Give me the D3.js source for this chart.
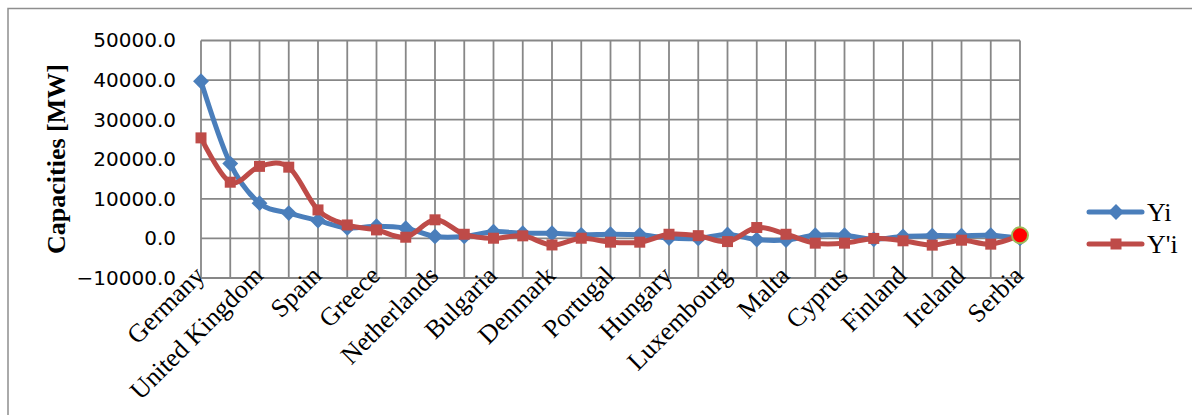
<!DOCTYPE html>
<html>
<head>
<meta charset="utf-8">
<script src="https://cdn.jsdelivr.net/npm/d3@7"></script>
<style>
  html, body { margin: 0; padding: 0; background: #ffffff; }
  svg { display: block; }
</style>
</head>
<body>
<svg id="chart" width="1192" height="415"></svg>
<script>
// Countries ordered by installed capacity (every second one is labelled on the axis)
const countries = [
  "Germany", "Italy", "United Kingdom", "France", "Spain", "Belgium", "Greece",
  "Czech Republic", "Netherlands", "Romania", "Bulgaria", "Austria", "Denmark",
  "Slovakia", "Portugal", "Slovenia", "Hungary", "Sweden", "Luxembourg", "Poland",
  "Malta", "Lithuania", "Cyprus", "Croatia", "Finland", "Estonia", "Ireland",
  "Latvia", "Serbia"
];

// Yi series, MW
const yiValues = [
  39700, 18900, 8900, 6400, 4500, 2650, 3100, 2600, 500, 500, 1700, 1300, 1300,
  900, 1050, 900, 100, 0, 1000, -300, -400, 800, 800, -200, 500, 700, 700,
  800, 0
];

// Y'i series, MW
const yPrimeValues = [
  25400, 14200, 18200, 18000, 7200, 3400, 2150, 300, 4700, 1050, 50, 650, -1650,
  50, -950, -950, 1050, 700, -800, 2750, 1050, -1200, -1200, 0, -600, -1700,
  -450, -1450, 800
];

// Value axis ticks
const yTicks = [-10000, 0, 10000, 20000, 30000, 40000, 50000];

const seriesNames = ["Yi", "Y'i"];

const svg = d3.select("#chart");

const x = d3.scalePoint().domain(countries).range([201, 1020]).padding(0);
const y = d3.scaleLinear().domain([-10000, 50000]).range([278, 40.5]);

const gridColor = "#878787";

// Outer chart frame
svg.append("rect")
  .attr("x", 8).attr("y", 8.5)
  .attr("width", 1200).attr("height", 420)
  .attr("fill", "none")
  .attr("stroke", "#8e8e8e")
  .attr("stroke-width", 1.5);

// Horizontal gridlines
svg.append("g")
  .selectAll("line")
  .data(yTicks)
  .join("line")
  .attr("x1", x(countries[0])).attr("x2", x(countries[countries.length - 1]))
  .attr("y1", d => y(d)).attr("y2", d => y(d))
  .attr("stroke", gridColor).attr("stroke-width", 1.8);

// Vertical gridlines, one per category
svg.append("g")
  .selectAll("line")
  .data(countries)
  .join("line")
  .attr("x1", d => x(d)).attr("x2", d => x(d))
  .attr("y1", y(50000)).attr("y2", y(-10000))
  .attr("stroke", gridColor).attr("stroke-width", 1.8);

// Value axis labels
const yAxis = d3.axisLeft(y)
  .tickValues(yTicks)
  .tickFormat(d3.format(".1f"))
  .tickSize(0)
  .tickPadding(25);

const yAxisG = svg.append("g")
  .attr("transform", `translate(${x(countries[0])},0)`)
  .call(yAxis);
yAxisG.select(".domain").remove();
yAxisG.selectAll("text")
  .attr("font-family", "DejaVu Sans, sans-serif")
  .attr("font-size", "20px")
  .attr("fill", "#000");

// Category labels, every second country, rotated
svg.append("g")
  .selectAll("text")
  .data(countries.filter((d, i) => i % 2 === 0))
  .join("text")
  .attr("transform", d => `translate(${x(d) + 5},${277}) rotate(-45)`)
  .attr("text-anchor", "end")
  .attr("font-family", "Liberation Serif, Times New Roman, serif")
  .attr("font-size", "26px")
  .attr("fill", "#000")
  .text(d => d);

// Value axis title
svg.append("text")
  .attr("transform", `translate(65,159) rotate(-90)`)
  .attr("text-anchor", "middle")
  .attr("font-family", "Liberation Serif, Times New Roman, serif")
  .attr("font-weight", "bold")
  .attr("font-size", "26px")
  .attr("fill", "#000")
  .text("Capacities [MW]");

const blue = "#4a7ebb";
const red = "#be4b48";

const line = d3.line()
  .x(d => x(d.c))
  .y(d => y(d.v))
  .curve(d3.curveCardinal.tension(0));

const yiData = countries.map((c, i) => ({ c, v: yiValues[i] }));
const ypData = countries.map((c, i) => ({ c, v: yPrimeValues[i] }));

const diamond = d3.symbol().type(d3.symbolDiamond2).size(160);
const square = d3.symbol().type(d3.symbolSquare).size(121);

// Yi series
svg.append("path")
  .datum(yiData)
  .attr("d", line)
  .attr("fill", "none")
  .attr("stroke", blue)
  .attr("stroke-width", 5)
  .attr("stroke-linejoin", "round");
svg.append("g")
  .selectAll("path")
  .data(yiData)
  .join("path")
  .attr("transform", d => `translate(${x(d.c)},${y(d.v)})`)
  .attr("d", diamond)
  .attr("fill", blue);

// Y'i series
svg.append("path")
  .datum(ypData)
  .attr("d", line)
  .attr("fill", "none")
  .attr("stroke", red)
  .attr("stroke-width", 5)
  .attr("stroke-linejoin", "round");
svg.append("g")
  .selectAll("path")
  .data(ypData.slice(0, -1))
  .join("path")
  .attr("transform", d => `translate(${x(d.c)},${y(d.v)})`)
  .attr("d", square)
  .attr("fill", red);

// Highlighted last point of Y'i
const last = ypData[ypData.length - 1];
svg.append("circle")
  .attr("cx", x(last.c)).attr("cy", y(last.v))
  .attr("r", 8)
  .attr("fill", "#ff0000")
  .attr("stroke", "#9bbb59")
  .attr("stroke-width", 2);

// Legend
const legend = svg.append("g");
const legendRows = [
  { name: seriesNames[0], color: blue, symbol: diamond, y: 212 },
  { name: seriesNames[1], color: red, symbol: square, y: 244 }
];
legendRows.forEach(r => {
  legend.append("line")
    .attr("x1", 1089).attr("x2", 1142)
    .attr("y1", r.y).attr("y2", r.y)
    .attr("stroke", r.color).attr("stroke-width", 5)
    .attr("stroke-linecap", "round");
  legend.append("path")
    .attr("transform", `translate(1116,${r.y})`)
    .attr("d", r.symbol)
    .attr("fill", r.color);
  legend.append("text")
    .attr("x", 1147).attr("y", r.y + 9)
    .attr("font-family", "Liberation Serif, Times New Roman, serif")
    .attr("font-size", "26px")
    .attr("fill", "#000")
    .text(r.name);
});
</script>
</body>
</html>
